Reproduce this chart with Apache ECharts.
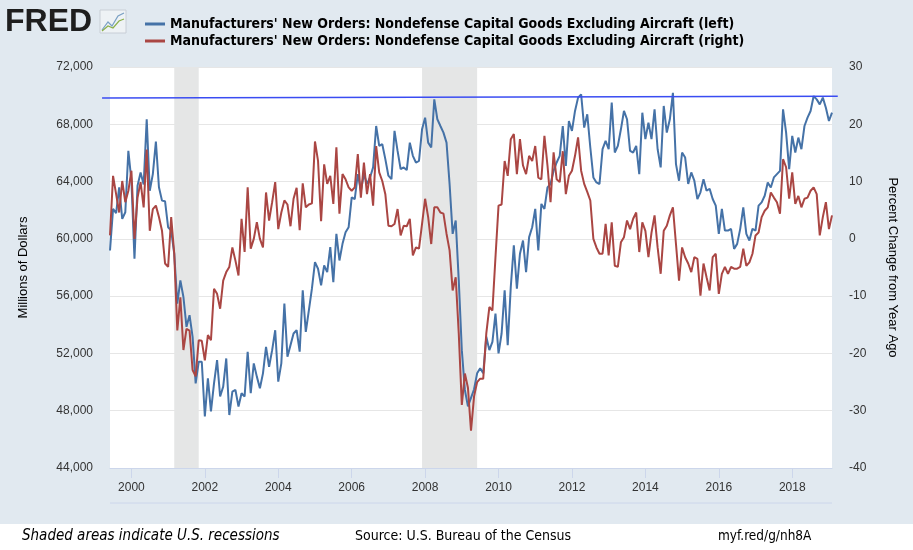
<!DOCTYPE html>
<html>
<head>
<meta charset="utf-8">
<script src="https://cdn.jsdelivr.net/npm/echarts@6/dist/echarts.min.js"></script>
<style>
html, body { margin: 0; padding: 0; background: #e1e9f0; }
#chart { width: 913px; height: 550px; }
</style>
</head>
<body>
<div id="chart"></div>
<script>
// monthly data, first month June 1999
var startYear = 1999, startMonth = 6;

// Millions of Dollars (left axis)
var ordersLevel = [
  59190, 62090, 61800, 63600, 61400, 61860, 66140, 64060, 58610, 63710,
  64640, 63800, 68350, 63360, 64520, 66800, 63600, 62670, 62620, 60810,
  60580, 58960, 55480, 57100, 55940, 53860, 54670, 53160, 49910, 51420,
  51420, 47600, 50260, 47950, 49910, 51540, 48990, 49680, 51650, 47700,
  49330, 49450, 48290, 49220, 48990, 52120, 49220, 51300, 50380, 49570,
  50610, 52460, 51070, 52230, 53620, 50030, 51300, 55480, 51770, 52580,
  53390, 53620, 52120, 56410, 53510, 55010, 56520, 58370, 57910, 56750,
  58140, 57680, 59420, 56980, 60350, 58490, 59650, 60460, 60810, 62900,
  62780, 64520, 63360, 64520, 63830, 64290, 64990, 67880, 66490, 66610,
  65570, 64410, 64170, 67540, 66140, 64870, 64990, 64800, 66720, 65800,
  65330, 65450, 67650, 68460, 66720, 66380, 69740, 68350, 67880, 67420,
  66720, 63830, 60350, 61280, 57100, 52230, 49450, 48300, 48900, 49500,
  50610, 50960, 50610, 53160, 52230, 52810, 54780, 52000, 53390, 56410,
  52580, 56640, 59540, 56520, 58960, 59880, 57680, 60120, 60810, 62090,
  59190, 62440, 62090, 63590, 63830, 64750, 65330, 65800, 67880, 65100,
  68230, 67540, 68930, 69860, 70090, 67770, 68700, 66380, 64290, 63940,
  63830, 66260, 66840, 66260, 69510, 66030, 66490, 67650, 68930, 68350,
  66140, 66030, 66490, 64520, 68810, 66960, 68120, 66960, 69040, 66260,
  64990, 69280, 67420, 68350, 70200, 65220, 64060, 66030, 65680, 63830,
  64640, 64060, 62780, 63250, 64170, 63360, 63500, 62780, 62320, 60350,
  62090, 60580, 60580, 60700, 59300, 59650, 60700, 62200, 60350, 59880,
  60700, 60580, 62320, 62550, 63010, 63940, 63590, 64290, 64520, 64750,
  69040, 67420, 64870, 67190, 66030, 67070, 66260, 67880, 68460, 68930,
  69970, 69740, 69390, 69860, 69160, 68230, 68810
];

// Percent Change from Year Ago (right axis)
var ordersChange = [
  0.6, 11, 7.8, 4.6, 10.1, 6.4, 8.4, 11.9, 0, 7.2,
  9.9, 5.5, 15.6, 1.4, 5.2, 5.8, 3.8, 1.4, -4.3, -4.9,
  3.8, -2.6, -16, -10.2, -19.4, -15.7, -16, -22.9, -24, -17.7,
  -17.8, -21.2, -16.8, -17.7, -8.7, -9.6, -12.2, -7.3, -5.8, -4.9,
  -1.5, -3.8, -6.4, 3.5, -2.3, 9, -1.7, 0, 2.9, 0,
  -1.5, 8.1, 3.2, 6.4, 9.9, 1.7, 4.6, 6.7, 6, 2.2,
  7, 8.9, 1.5, 9.7, 5.5, 6, 6.2, 17, 13.6, 3.1,
  13, 9.6, 11, 6.1, 16, 4.4, 11.3, 10.4, 9, 8.4,
  9, 14.8, 7.2, 13.3, 7.8, 11.3, 5.8, 16.2, 11.6, 10.1,
  7.8, 2.3, 2.2, 2.6, 5.2, 0.6, 2.3, 2.2, 3.5, -2.9,
  -1.5, -1.7, 2.6, 7, 3.8, -0.9, 5.5, 5.5, 4.6, 4.4,
  0.9, -2, -9, -6.7, -16.5, -29, -23.5, -26, -33.5, -27.5,
  -25, -24.4, -24.4, -16.5, -11.9, -12.5, -3.2, 5.8, 6, 13.6,
  11, 17.4, 18.3, 11.3, 17.4, 12.8, 11.3, 14.5, 13.6, 16.2,
  10.7, 10.4, 18, 12.8, 6.4, 15.1, 10.4, 9.9, 15.3, 7.8,
  11, 11.9, 14.5, 17.7, 11.9, 9.6, 8.2, 6.7, 0, -1.5,
  -2.6, -2.6, 2.6, -2.9, 2.9, -4.7, -4.9, -0.6, 0.3, 3.2,
  1.7, 3.5, 4.6, -2.3, 2.9, 1.4, -3.2, 1.1, 4.1, -1.5,
  -6.1, 1.4, 2.3, 4.1, 5.5, -0.9, -7.3, -1.5, -3.2, -4.3,
  -5.8, -3.2, -3.5, -9.9, -4.3, -6.7, -9, -3.2, -2.6, -9.6,
  -6.1, -4.9, -6.1, -4.9, -5.2, -5.2, -4.9, -1.7, -4.7, -4.1,
  -2.6, 0.6, 1.1, 3.8, 4.9, 5.5, 8.1, 7.2, 6.4, 4.4,
  13.9, 12.5, 7, 11.6, 6.1, 7.5, 5.5, 7, 7.2, 8.4,
  9, 7.8, 0.6, 3.8, 6.4, 1.7, 4.1
];

// recessions as decimal years: Mar-Nov 2001, Dec 2007-Jun 2009
var recessions = [[2001 + 2 / 12, 2001 + 10 / 12], [2007 + 11 / 12, 2009 + 5 / 12]];
var yearTicks = [2000, 2002, 2004, 2006, 2008, 2010, 2012, 2014, 2016, 2018];
// hand drawn reference line [year, dollars]
var refLine = [[1999.2, 69840], [2019.24, 69960]];

var leftName = "Manufacturers' New Orders: Nondefense Capital Goods Excluding Aircraft (left)";
var rightName = "Manufacturers' New Orders: Nondefense Capital Goods Excluding Aircraft (right)";

function monthX(i) {
  return startYear + (startMonth - 1) / 12 + i / 12;
}
var levelData = ordersLevel.map(function (v, i) { return [monthX(i), v]; });
var changeData = ordersChange.map(function (v, i) { return [monthX(i), v]; });
var xMin = monthX(0), xMax = monthX(ordersLevel.length - 1);

var chart = echarts.init(document.getElementById('chart'));
var font = '"Liberation Sans", Arial, sans-serif';
var narrow = '"DejaVu Sans Condensed", "Liberation Sans", sans-serif';

chart.setOption({
  animation: false,
  backgroundColor: '#e1e9f0',
  textStyle: { fontFamily: font },
  grid: { left: 110, right: 81, top: 67, bottom: 82, show: true, backgroundColor: '#ffffff', borderWidth: 0 },
  legend: {
    left: 140, top: 12, orient: 'vertical', itemGap: 3,
    itemWidth: 20, itemHeight: 3, icon: 'rect',
    textStyle: { fontFamily: narrow, fontWeight: 'bold', fontSize: 14, color: '#000' },
    data: [leftName, rightName]
  },
  xAxis: {
    type: 'value', min: xMin, max: xMax,
    axisLine: { onZero: false, lineStyle: { color: '#ccd6eb' } },
    axisTick: { customValues: yearTicks, length: 10, lineStyle: { color: '#ccd6eb' } },
    axisLabel: { customValues: yearTicks, color: '#333', fontSize: 12, margin: 14,
      formatter: function (v) { return String(v); } },
    splitLine: { show: false }
  },
  yAxis: [{
    type: 'value', min: 44000, max: 72000, interval: 4000,
    name: 'Millions of Dollars', nameLocation: 'middle', nameGap: 80,
    nameTextStyle: { color: '#000', fontSize: 13 },
    axisLine: { show: false }, axisTick: { show: false },
    axisLabel: { color: '#333', fontSize: 12, margin: 17,
      formatter: function (v) { return v.toLocaleString('en-US'); } },
    splitLine: { lineStyle: { color: '#e6e6e6' } }
  }, {
    type: 'value', min: -40, max: 30, interval: 10,
    name: 'Percent Change from Year Ago', nameLocation: 'middle', nameGap: 54, nameRotate: -90,
    nameTextStyle: { color: '#000', fontSize: 13 },
    axisLine: { show: false }, axisTick: { show: false },
    axisLabel: { color: '#333', fontSize: 12, margin: 17 },
    splitLine: { show: false }
  }],
  series: [{
    name: leftName, type: 'line', yAxisIndex: 0, data: levelData,
    showSymbol: false, color: '#4572a7', lineStyle: { width: 2 },
    markArea: {
      silent: true, itemStyle: { color: '#e5e6e6' },
      data: recessions.map(function (r) { return [{ xAxis: r[0] }, { xAxis: r[1] }]; })
    },
    z: 2
  }, {
    name: rightName, type: 'line', yAxisIndex: 1, data: changeData,
    showSymbol: false, color: '#aa4643', lineStyle: { width: 2 },
    z: 3
  }]
});

var p1 = chart.convertToPixel({ xAxisIndex: 0, yAxisIndex: 0 }, refLine[0]);
var p2 = chart.convertToPixel({ xAxisIndex: 0, yAxisIndex: 0 }, refLine[1]);

chart.setOption({
  graphic: [
    { type: 'line', z: 10, shape: { x1: p1[0], y1: p1[1], x2: p2[0], y2: p2[1] },
      style: { stroke: '#3a4cf2', lineWidth: 1.5 } },
    { type: 'line', shape: { x1: 110, y1: 503, x2: 832, y2: 503 }, style: { stroke: '#ccd6eb', lineWidth: 1 } },
    { type: 'rect', shape: { x: 0, y: 524, width: 913, height: 26 }, style: { fill: '#ffffff' } },
    { type: 'text', left: 22, top: 529,
      style: { text: 'Shaded areas indicate U.S. recessions', font: 'italic 15px ' + narrow, fill: '#000' } },
    { type: 'text', left: 355, top: 529,
      style: { text: 'Source: U.S. Bureau of the Census', font: '14px ' + narrow, fill: '#000' } },
    { type: 'text', left: 718, top: 529,
      style: { text: 'myf.red/g/nh8A', font: '13.5px ' + narrow, fill: '#000' } },
    { type: 'text', left: 5, top: 6,
      style: { text: 'FRED', font: 'bold 32px ' + font, fill: '#1e1e1e' } },
    { type: 'rect', shape: { x: 100, y: 10, width: 26, height: 23 },
      style: { fill: '#eef2f5', stroke: '#c8ced6', lineWidth: 1 } },
    { type: 'polyline', shape: { points: [[102, 30], [108, 22], [112, 26], [118, 16], [124, 13]] },
      style: { stroke: '#7aa0c4', lineWidth: 1.2, fill: null } },
    { type: 'polyline', shape: { points: [[102, 31], [108, 26], [113, 28], [119, 21], [124, 19]] },
      style: { stroke: '#8bb04a', lineWidth: 1.2, fill: null } }
  ]
});
</script>
</body>
</html>
